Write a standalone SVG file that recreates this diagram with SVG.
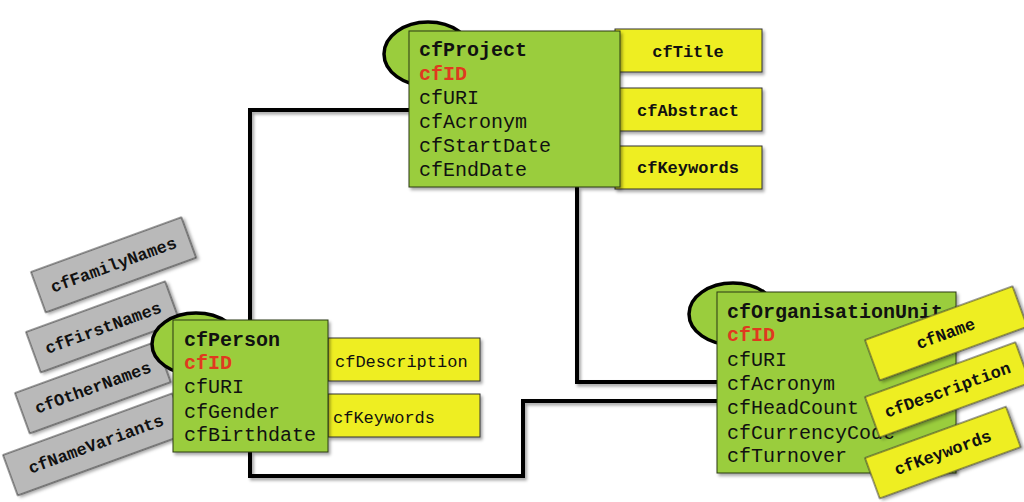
<svg xmlns="http://www.w3.org/2000/svg" width="1024" height="502" viewBox="0 0 1024 502">
<defs>
<filter id="sh" x="-10%" y="-10%" width="130%" height="140%">
<feDropShadow dx="2" dy="2.5" stdDeviation="1.5" flood-color="#000" flood-opacity="0.35"/>
</filter>
<style>
.bg{fill:#ffffff}
.conn{fill:none;stroke:#000;stroke-width:4;stroke-linejoin:miter}
.ell{fill:#9acd3d;stroke:#000;stroke-width:3.5}
.ent{fill:#9acd3d;stroke:#2b3a14;stroke-width:1}
.attr{fill:#eeee22;stroke:#333;stroke-width:1}
.gray{fill:#b9b9b9;stroke:#333;stroke-width:1}
.t{font-family:"Liberation Mono","Courier New",monospace;font-size:20px;fill:#111}
.b{font-weight:bold}
.id{fill:#e0391f;font-weight:bold}
.a{font-family:"Liberation Mono","Courier New",monospace;font-size:17px;fill:#111}
.ab{font-weight:bold}
.c{text-anchor:middle}
</style>
</defs>
<rect class="bg" x="0" y="0" width="1024" height="502"/>

<g id="connectors" filter="url(#sh)">
<path class="conn" d="M409,110 H250 V320"/>
<path class="conn" d="M250,452 V476 H523 V401 H717"/>
<path class="conn" d="M577,187 V382 H717"/>
</g>

<g id="cfFamilyNames" transform="translate(31,272) rotate(-20)">
<rect class="gray" x="0" y="0" width="160" height="43" filter="url(#sh)"/>
<text class="a ab c" x="80" y="27">cfFamilyNames</text>
</g>
<g id="cfFirstNames" transform="translate(26,332) rotate(-20)">
<rect class="gray" x="0" y="0" width="148" height="43" filter="url(#sh)"/>
<text class="a ab c" x="74" y="28">cfFirstNames</text>
</g>
<g id="cfOtherNames" transform="translate(15,393) rotate(-20)">
<rect class="gray" x="0" y="0" width="150" height="43" filter="url(#sh)"/>
<text class="a ab c" x="75" y="27">cfOtherNames</text>
</g>
<g id="cfNameVariants" transform="translate(3,455) rotate(-20)">
<rect class="gray" x="0" y="0" width="180" height="43" filter="url(#sh)"/>
<text class="a ab c" x="91" y="27">cfNameVariants</text>
</g>

<g id="cfProject">
<ellipse class="ell" cx="428" cy="54" rx="44" ry="32"/>
<rect class="attr" x="615" y="29" width="147" height="43" filter="url(#sh)"/>
<text class="a ab c" x="688" y="57">cfTitle</text>
<rect class="attr" x="615" y="88" width="147" height="43" filter="url(#sh)"/>
<text class="a ab c" x="688" y="116">cfAbstract</text>
<rect class="attr" x="615" y="146" width="147" height="43" filter="url(#sh)"/>
<text class="a ab c" x="688" y="173">cfKeywords</text>
<rect class="ent" x="409" y="31" width="211" height="156" filter="url(#sh)"/>
<text class="t b" x="419" y="56">cfProject</text>
<text class="t id" x="419" y="80">cfID</text>
<text class="t" x="419" y="104">cfURI</text>
<text class="t" x="419" y="128">cfAcronym</text>
<text class="t" x="419" y="152">cfStartDate</text>
<text class="t" x="419" y="176">cfEndDate</text>
</g>

<g id="cfPerson">
<ellipse class="ell" cx="196" cy="344" rx="44" ry="31"/>
<rect class="attr" x="328" y="338" width="152" height="43" filter="url(#sh)"/>
<text class="a" x="335" y="367">cfDescription</text>
<rect class="attr" x="328" y="394" width="152" height="43" filter="url(#sh)"/>
<text class="a" x="333" y="423">cfKeywords</text>
<rect class="ent" x="173" y="320" width="155" height="132" filter="url(#sh)"/>
<text class="t b" x="184" y="346">cfPerson</text>
<text class="t id" x="184" y="369">cfID</text>
<text class="t" x="184" y="393">cfURI</text>
<text class="t" x="184" y="418">cfGender</text>
<text class="t" x="184" y="441">cfBirthdate</text>
</g>

<g id="cfOrganisationUnit">
<ellipse class="ell" cx="733" cy="314" rx="44" ry="31"/>
<rect class="ent" x="717" y="292" width="239" height="181" filter="url(#sh)"/>
<text class="t b" x="727" y="318">cfOrganisationUnit</text>
<text class="t id" x="727" y="341">cfID</text>
<text class="t" x="727" y="366">cfURI</text>
<text class="t" x="727" y="390">cfAcronym</text>
<text class="t" x="727" y="414">cfHeadCount</text>
<text class="t" x="727" y="439">cfCurrencyCode</text>
<text class="t" x="727" y="462">cfTurnover</text>
<g transform="translate(865,340) rotate(-20)">
<rect class="attr" x="0" y="0" width="157" height="43" filter="url(#sh)"/>
<text class="a ab c" x="78" y="27">cfName</text>
</g>
<g transform="translate(865,397) rotate(-20)">
<rect class="attr" x="0" y="0" width="160" height="43" filter="url(#sh)"/>
<text class="a ab c" x="80" y="27">cfDescription</text>
</g>
<g transform="translate(865,458) rotate(-20)">
<rect class="attr" x="0" y="0" width="150" height="43" filter="url(#sh)"/>
<text class="a ab c" x="75" y="27">cfKeywords</text>
</g>
</g>
</svg>
